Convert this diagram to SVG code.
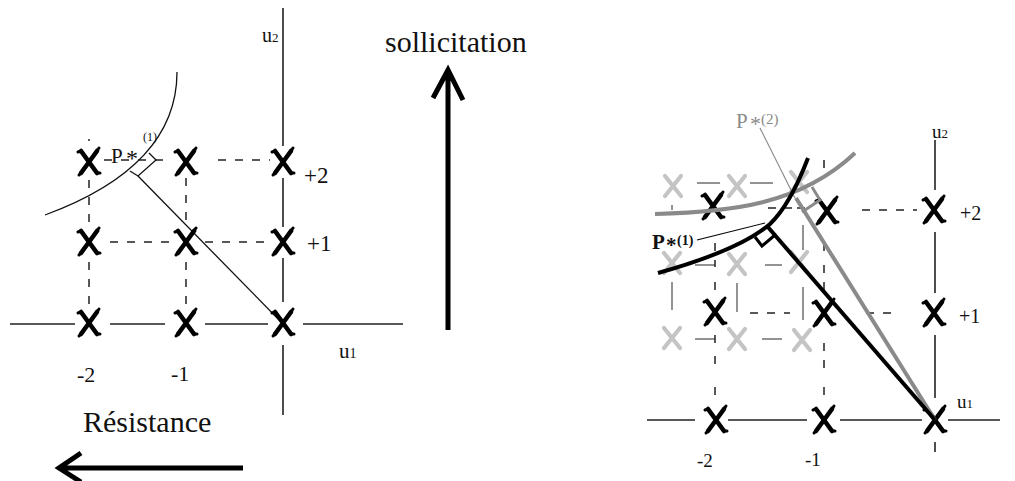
<svg xmlns="http://www.w3.org/2000/svg" xmlns:xlink="http://www.w3.org/1999/xlink" width="1015" height="481" viewBox="0 0 1015 481">
<style>
.t{font-family:"Liberation Serif","Times New Roman",serif;fill:#111}
.ax{stroke:#222;stroke-width:1.6;fill:none}
.dl{stroke:#222;stroke-width:1.5;fill:none;stroke-dasharray:8 9}
.gd{stroke:#707070;stroke-width:1.5;fill:none}
.thin{stroke:#111;stroke-width:1.3;fill:none}
.big{stroke:#000;stroke-width:5;fill:none}
.g{fill:#8a8a8a}
</style>
<defs>
<g id="bx" fill="none" stroke="#000" stroke-linecap="round">
<path d="M-8,-11 L8,11 M8,-11 L-8,11" stroke-width="4.6"/>
<path d="M-8,-11 l-3,1 M8,-11 l2,-3 M-8,11 l-2,2 M8,11 l3,0" stroke-width="3"/>
</g>
<g id="gx" fill="none" stroke="#c4c4c4" stroke-linecap="round">
<path d="M-8,-10 L8,10 M8,-10 L-8,10" stroke-width="4.2"/>
</g>
</defs>

<!-- LEFT DIAGRAM -->
<g id="left-connectors">
<path class="ax" d="M283,8 V146 M283,178 V227 M283,258 V302 M283,345 V415"/>
<path class="ax" d="M10,324 H75 M110,324 H165 M205,324 H268 M303,324 H403"/>
<path class="dl" d="M104,160 H170 M218,160 H270 M110,242 H170 M205,242 H268"/>
<path class="dl" d="M89,139 V141 M89,180 V228 M89,262 V306 M186,178 V228 M186,262 V306"/>
<path fill="none" stroke="#111" stroke-width="1.3" d="M177,72 C177,130 140,180 45,215"/>
<path class="thin" d="M138,176 L283,324"/>
<path class="thin" d="M130,171 L138,176 L156,160 L149,153"/>
</g>
<g id="L_m2_2"><use xlink:href="#bx" x="89" y="162"/></g>
<g id="L_m1_2"><use xlink:href="#bx" x="186" y="162"/></g>
<g id="L_0_2"><use xlink:href="#bx" x="283" y="162"/></g>
<g id="L_m2_1"><use xlink:href="#bx" x="89" y="242"/></g>
<g id="L_m1_1"><use xlink:href="#bx" x="186" y="242"/></g>
<g id="L_0_1"><use xlink:href="#bx" x="283" y="242"/></g>
<g id="L_m2_0"><use xlink:href="#bx" x="89" y="323"/></g>
<g id="L_m1_0"><use xlink:href="#bx" x="186" y="323"/></g>
<g id="L_0_0"><use xlink:href="#bx" x="283" y="323"/></g>
<g id="left-labels">
<text class="t" x="262" y="42" font-size="20">u<tspan font-size="13">2</tspan></text>
<text class="t" x="339" y="358" font-size="21">u<tspan font-size="14">1</tspan></text>
<text class="t" x="304" y="183" font-size="23">+2</text>
<text class="t" x="307" y="251" font-size="23">+1</text>
<text class="t" x="77" y="382" font-size="22">-2</text>
<text class="t" x="171" y="381" font-size="22">-1</text>
<text class="t" x="111" y="163" font-size="21">P</text>
<text class="t" x="126" y="166" font-size="24">*</text>
<text class="t" x="143" y="141" font-size="12">(1)</text>
</g>

<!-- ARROWS -->
<g id="sollicitation">
<text class="t" x="385" y="52" font-size="30">sollicitation</text>
<path class="big" d="M448,330 V72 M433,98 L448,70 L463,100"/>
</g>
<g id="resistance">
<text class="t" x="83" y="432" font-size="30">Résistance</text>
<path class="big" d="M243,468 H60 M81,453 L59,468 L81,482"/>
</g>

<!-- RIGHT DIAGRAM -->
<g id="right-connectors">
<path class="gd" d="M697,183 H720 M750,183 H773 M695,265 H715 M765,265 H782 M695,339 H715 M762,339 H782 M672,205 V210 M672,282 V310 M737,283 V312 M803,225 V250 M803,287 V320"/>
<path class="ax" d="M935,140 V190 M935,232 V293 M935,335 V398 M935,442 V452"/>
<path class="ax" d="M647,420 H695 M728,420 H807 M840,420 H922 M948,420 H1000"/>
<path class="dl" d="M862,210 H917 M750,313 H790 M866,313 H900"/>
<path class="dl" stroke-dasharray="0" d="M768,208 H792 M797,208 H806 M715,243 V267 M715,282 V293 M715,335 V350 M715,356 V372 M715,387 V400 M824,160 V177 M824,243 V258 M824,265 V290 M824,343 V372 M824,387 V400"/>
</g>
<g id="G_0"><use xlink:href="#gx" x="673" y="186"/></g>
<g id="G_1"><use xlink:href="#gx" x="737" y="186"/></g>
<g id="G_2"><use xlink:href="#gx" x="799" y="182"/></g>
<g id="G_3"><use xlink:href="#gx" x="672" y="263"/></g>
<g id="G_4"><use xlink:href="#gx" x="737" y="264"/></g>
<g id="G_5"><use xlink:href="#gx" x="799" y="262"/></g>
<g id="G_6"><use xlink:href="#gx" x="672" y="338"/></g>
<g id="G_7"><use xlink:href="#gx" x="737" y="339"/></g>
<g id="G_8"><use xlink:href="#gx" x="802" y="340"/></g>
<g id="R_m2_2"><use xlink:href="#bx" x="713" y="206"/></g>
<g id="R_m1_2"><use xlink:href="#bx" x="827" y="211"/></g>
<g id="R_0_2"><use xlink:href="#bx" x="934" y="210"/></g>
<g id="R_m2_1"><use xlink:href="#bx" x="715" y="312"/></g>
<g id="R_m1_1"><use xlink:href="#bx" x="824" y="313"/></g>
<g id="R_0_1"><use xlink:href="#bx" x="934" y="313"/></g>
<g id="R_m2_0"><use xlink:href="#bx" x="716" y="420"/></g>
<g id="R_m1_0"><use xlink:href="#bx" x="824" y="420"/></g>
<g id="R_0_0"><use xlink:href="#bx" x="935" y="420"/></g>
<g id="right-curves">
<path fill="none" stroke="#8a8a8a" stroke-width="4" d="M655,214 C730,212 800,205 855,153"/>
<path fill="none" stroke="#8a8a8a" stroke-width="4" d="M796,198 L935,420"/>
<path fill="none" stroke="#8a8a8a" stroke-width="3" d="M812,187 L820,200 L802,212"/>
<path fill="none" stroke="#8a8a8a" stroke-width="1.2" d="M760,128 L795,198"/>
<path fill="none" stroke="#000" stroke-width="4" d="M658,273 Q740,250 770,224 Q790,205 808,158"/>
<path fill="none" stroke="#000" stroke-width="4" d="M767,226 L935,420"/>
<path fill="none" stroke="#000" stroke-width="3" d="M755,237 L762,246 L775,235"/>
<path fill="none" stroke="#000" stroke-width="1.2" d="M697,240 L765,223"/>
</g>
<g id="right-labels">
<text class="t" x="932" y="138" font-size="19">u<tspan font-size="13">2</tspan></text>
<text class="t" x="957" y="408" font-size="19">u<tspan font-size="13">1</tspan></text>
<text class="t" x="960" y="220" font-size="20">+2</text>
<text class="t" x="959" y="323" font-size="20">+1</text>
<text class="t" x="697" y="467" font-size="19">-2</text>
<text class="t" x="805" y="466" font-size="19">-1</text>
<text class="t g" x="736" y="128" font-size="21">P</text>
<text class="t g" x="750" y="131" font-size="22">*</text>
<text class="t g" x="761" y="124" font-size="15">(2)</text>
<text class="t" x="652" y="249" font-size="21" font-weight="bold">P</text>
<text class="t" x="666" y="252" font-size="21" font-weight="bold">*</text>
<text class="t" x="677" y="245" font-size="14" font-weight="bold">(1)</text>
</g>
</svg>
